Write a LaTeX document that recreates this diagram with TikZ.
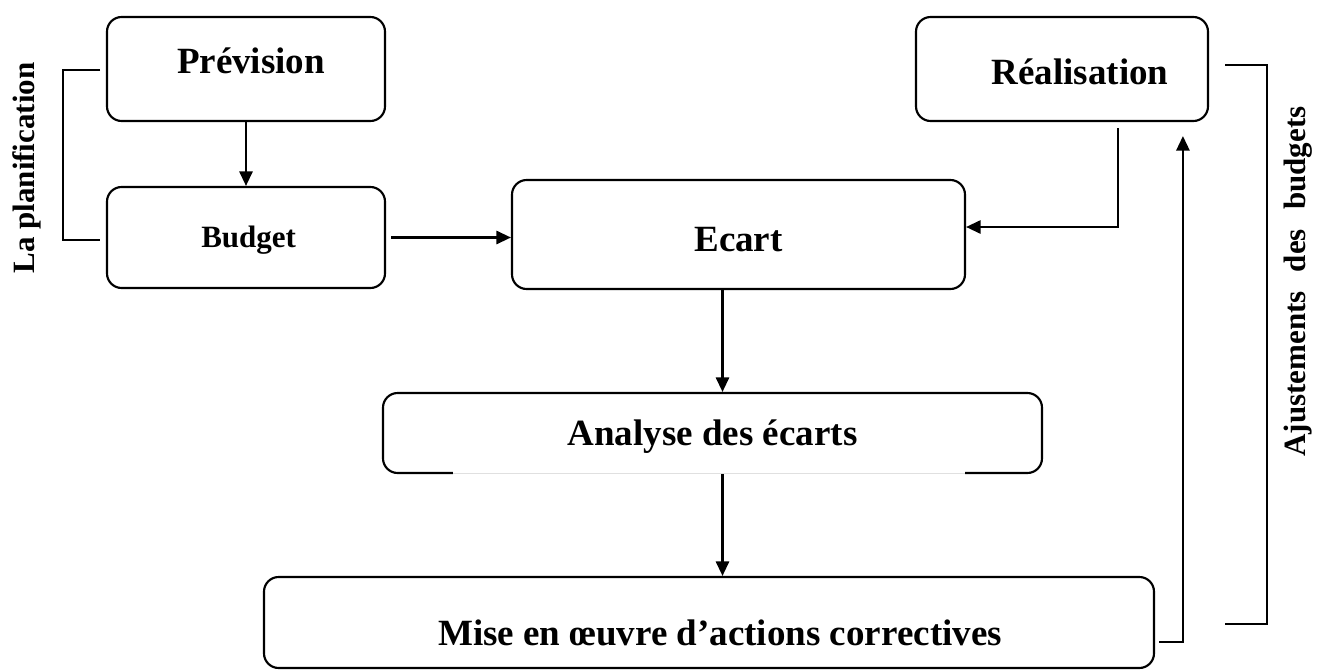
\documentclass[tikz,border=0pt]{standalone}
\usepackage{fontspec}
\setmainfont{Liberation Serif}
\usetikzlibrary{arrows.meta,calc}

\begin{document}
\begin{tikzpicture}[x=0.75pt,y=-0.75pt,
  box/.style={draw,line width=1.6pt,rounded corners=11pt,inner sep=0pt,
    font=\bfseries\fontsize{27.75}{30}\selectfont,text depth=0pt},
  smallbox/.style={box,font=\bfseries\fontsize{23.25}{26}\selectfont},
  arr/.style={line width=1.6pt,-{Triangle[length=11pt,width=10pt]}},
  bracket/.style={line width=1.2pt},
  side/.style={font=\bfseries\fontsize{23.25}{26}\selectfont,rotate=90,inner sep=0pt}]
\useasboundingbox (0,0) rectangle (1317,671);

% boxes
\node[box,minimum width=208.5pt,minimum height=78pt,text height=6pt]
  (prev) at (246,69) {\hspace*{7.5pt}Prévision};
\node[smallbox,minimum width=208.5pt,minimum height=75.75pt,text height=14.25pt]
  (budget) at (246,237.5) {\hspace*{4pt}Budget};
\node[box,minimum width=339.75pt,minimum height=81.75pt,text height=24.75pt]
  (ecart) at (738.5,234.5) {Ecart};
\node[box,minimum width=219pt,minimum height=78pt,text height=22.5pt]
  (real) at (1062,69) {\hspace*{27pt}Réalisation};
\node[box,minimum width=494.25pt,minimum height=60pt,text height=18pt]
  (analyse) at (712.5,433) {Analyse des écarts};
\node[box,minimum width=667.5pt,minimum height=68.25pt,text height=33.75pt]
  (mise) at (709,622.5) {\hspace*{16.5pt}Mise en œuvre d’actions correctives};

% open part of the lower edge of the analysis box
\draw[white,line width=3pt] (453,473) -- (965,473);
\draw[black!12,line width=0.4pt] (453,473) -- (965,473);

% flow
\draw[arr] (prev.south) -- (budget.north);
\draw[arr] ($(budget.east)+(5,0)$) -- (budget.east -| ecart.west);
\draw[arr] ($(real.south west)+(203,6)$) |- ($(ecart.east)+(0,-7.5)$);
\draw[arr] ($(ecart.south)+(-16,0)$) coordinate (e1) -- (e1 |- analyse.north);
\draw[arr] (e1 |- analyse.south) -- (e1 |- mise.north);
\draw[arr] ($(mise.east)+(4,19.5)$) -| ($(real.south west)+(268,14)$);

% planning bracket
\coordinate (pt) at (100,70);
\coordinate (pb) at (100,240);
\draw[bracket] (pt) -- (63,70) -- (63,240) -- (pb);
\node[side] (plan) at (27,168) {La planification};

% budget adjustment bracket
\coordinate (at) at (1225,65);
\coordinate (ab) at (1225,624);
\draw[bracket] (at) -- (1267,65) -- (1267,624) -- (ab);
\node[side] (ajust) at (1298,281.5) {Ajustements\hspace{8.5pt} des\hspace{8.5pt} budgets};
\end{tikzpicture}
\end{document}
